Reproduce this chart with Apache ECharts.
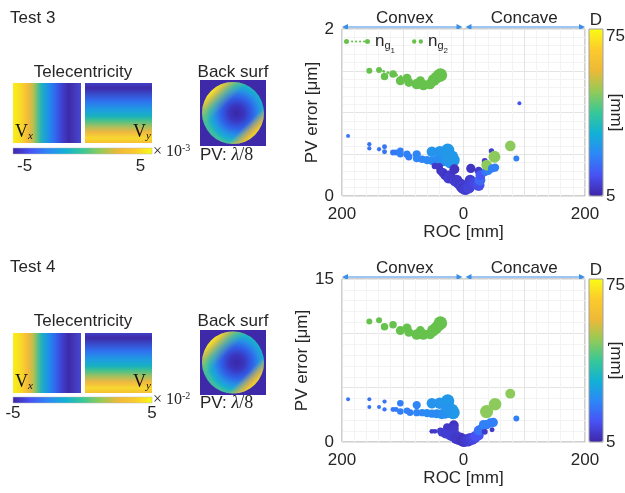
<!DOCTYPE html>
<html><head><meta charset="utf-8">
<script src="https://cdn.jsdelivr.net/npm/echarts@6/dist/echarts.min.js"></script>
<style>html,body{margin:0;padding:0;background:#fff}#c{width:625px;height:493px}</style>
</head><body><div id="c"></div>
<script>
// ---------------- DATA ----------------
// colored points: [ROC (mm, convex negative), PV error (um), D (mm), weight]
const test3Colored = [
  [-190,0.72,20,1.2],[-155,0.62,20,1.3],[-155,0.57,20,1.3],[-139,0.56,20,1.3],[-130,0.59,20,1.5],[-130,0.53,20,1.5],
  [-116,0.52,21,1.8],[-111,0.52,21,1.8],[-104,0.54,22,2],[-104,0.50,22,2],[-93,0.50,22,2.2],[-90,0.47,22,2.2],
  [-77,0.50,23,2.5],[-77,0.45,23,2.3],[-68,0.44,23,2.3],[-60,0.43,24,2.5],[-52,0.53,26,3.2],[-52,0.42,24,2.5],
  [-44,0.43,24,2.8],[-39,0.53,26,3.5],[-36,0.41,25,3],[-30,0.42,25,3],[-26,0.55,27,4],[-27,0.45,26,3.5],
  [-22,0.40,26,3.5],[-19,0.47,27,3.8],[-17,0.43,27,4],[-25,0.45,27,3.5],
  [-47,0.36,9,2],[-40,0.35,9,2.3],[-38,0.30,8,2.5],[-34,0.28,9,2.8],[-30,0.25,9,3],[-27,0.24,8,3],[-22,0.25,9,3],
  [-25,0.21,10,3],[-19,0.21,9,3.2],[-15,0.32,8,3],[-14,0.18,10,3.3],[-11,0.19,9,3.3],[-8,0.15,10,3.3],[-5,0.14,9,3.5],
  [-3,0.11,10,3.5],[0,0.09,9,3.5],[3,0.08,10,3.5],[6,0.10,10,3.5],[9,0.10,11,3.5],[11,0.19,10,3.3],[12,0.33,8,2.8],
  [15,0.15,11,3.5],[20,0.15,12,3.5],[25,0.13,13,3.5],[25,0.30,9,2.5],[27,0.19,18,3.3],[28,0.25,15,3],
  [35,0.42,9,1.8],[36,0.29,20,2.5],[41,0.30,22,2.5],[38,0.37,50,3.2],[46,0.54,10,1.6],[47,0.33,22,2.5],
  [52,0.34,22,2.5],[51,0.47,50,3.6],[77,0.60,50,3.2],[87,0.45,22,1.8],[92,1.11,14,1.2]
];
// n_g points: [ROC, PV, weight]
const test3Ng1 = [[-139,1.51,2],[-116,1.46,2.5],[-93,1.41,3]];
const test3Ng2 = [[-155,1.50,2],[-130,1.43,2.5],[-104,1.38,3],[-90,1.36,3],[-77,1.34,3.5],[-71,1.38,3],
  [-66,1.33,3.5],[-55,1.34,3.5],[-49,1.39,4],[-44,1.42,4],[-41,1.44,4],[-38,1.45,4.5]];

const test4Colored = [
  [-190,3.93,20,1.2],[-155,3.93,20,1.2],[-155,3.23,20,1.2],[-139,3.23,20,1.2],[-130,3.72,20,1.3],[-130,3.0,20,1.3],
  [-116,3.0,21,1.5],[-111,3.0,21,1.5],[-104,3.57,22,2],[-104,2.8,22,2],[-93,2.87,22,2],[-88,2.7,22,2],
  [-77,3.4,23,2.5],[-77,2.7,23,2.2],[-68,2.7,23,2.2],[-60,2.65,24,2.5],[-52,3.57,26,3.2],[-52,2.6,24,2.5],
  [-44,2.6,24,2.8],[-39,3.57,26,3.5],[-36,2.55,25,3],[-30,2.6,25,3],[-26,3.78,27,4],[-24,3.0,26,3.5],
  [-22,2.75,26,3.5],[-19,2.95,27,3.8],[-17,2.7,27,4],[-27,3.0,26,3.5],
  [-52,0.98,9,1.5],[-47,0.98,9,1.5],[-38,1.03,9,2],[-27,1.34,9,2.5],[-22,1.1,9,3],[-16,1.55,8,3],[-16,1.2,9,3],
  [-36,0.89,10,2.5],[-30,0.75,10,2.8],[-22,0.6,10,3],[-18,0.5,10,3],[-12,0.6,10,3],[-12,0.35,9,3.5],[-8,0.25,9,3.5],
  [-5,0.35,9,3.5],[-2,0.15,8,3.5],[0,0.08,8,3.5],[3,0.1,9,3.5],[6,0.2,9,3.5],[8,0.12,10,3.5],[11,0.3,10,3.5],
  [14,0.25,11,3.5],[18,0.4,12,3.5],[20,0.55,14,3.2],[25,0.6,14,3],[25,1.04,18,3],[27,1.1,20,3],
  [35,0.95,9,1.8],[47,1.13,9,1.5],[33,1.6,22,2.8],[38,1.6,22,2.8],[44,1.75,22,2.8],[49,1.8,22,2.8],
  [38,2.8,50,4],[52,3.48,50,3.8],[77,4.45,50,3],[87,2.17,22,1.8]
];
const test4Ng = [[-155,11.1,2],[-139,11.2,2],[-130,10.6,2.5],[-116,10.8,2.5],[-104,10.25,3],[-93,10.5,3],[-90,10.1,3],
  [-77,9.9,3.5],[-71,10.25,3],[-66,9.9,3.5],[-55,9.95,3.5],[-50,10.25,4],[-45,10.5,4],[-41,10.75,4],[-38,10.95,4.5]];

const xTickLabels = [-200, 0, 200];
const yTickLabels3 = [0, 2];
const yTickLabels4 = [0, 15];
const dRange = [5, 78];
const dTicks = [5, 75];
const tele3Range = [-6, 6];
const tele4Range = [-5, 5];
const teleTicks = [-5, 5];
const panelTitles = ['Test 3', 'Test 4'];
const teleExponents = ['-3', '-2'];

// ---------------- STYLE ----------------
const FONT = '"Liberation Sans", Arial, sans-serif';
const SERIF = '"Liberation Serif", "Times New Roman", serif';
const TXT = '#262626';
const GREEN = '#66c24c';
const BOX = '#a0a0a0';
const PARULA = ['#3E26A8','#4852F4','#2D87F7','#12B1D6','#37C897','#92CB57','#ECB938','#FCCA2D','#F9FB14'];
const stops = (cols) => cols.map((c, i) => ({offset: i / (cols.length - 1), color: c}));
const stopsAt = (arr) => arr.map(([o, c]) => ({offset: o, color: c}));

const G = [{top: 29, h: 167}, {top: 279, h: 163}];
const GL = 342, GW = 243;
const L = [
  {title: 18, tele: 72, rect: 83, rh: 60, cb: 148, cbl: 166, exp: 152, sq: 80, sqh: 66, pv: 155, v: 132, range: tele3Range},
  {title: 267, tele: 321, rect: 333, rh: 60, cb: 397, cbl: 413, exp: 400, sq: 330, sqh: 65, pv: 403, v: 382, range: tele4Range}
];

const chart = echarts.init(document.getElementById('c'));

function xAxis(gi) {
  return {
    type: 'value', gridIndex: gi, position: 'bottom', min: -200, max: 200, interval: 100,
    name: 'ROC [mm]', nameLocation: 'middle', nameGap: gi === 0 ? 25 : 28,
    nameTextStyle: {fontFamily: FONT, fontSize: 17, color: TXT},
    axisLine: {show: false, onZero: false},
    axisTick: {show: false},
    axisLabel: {fontFamily: FONT, fontSize: 17, color: TXT, margin: 10, showMinLabel: true, showMaxLabel: true,
      formatter: v => xTickLabels.includes(v) ? String(Math.abs(v)) : ''},
    splitLine: {show: true, lineStyle: {color: '#e4e4e4'}},
    minorTick: {show: false, splitNumber: 5},
    minorSplitLine: {show: true, lineStyle: {color: '#f3f3f3'}}
  };
}
function yAxis(gi, max, interval, ticks) {
  return {
    type: 'value', gridIndex: gi, position: 'left', min: 0, max: max, interval: interval,
    name: 'PV error [μm]', nameLocation: 'middle', nameGap: 18, nameRotate: 90,
    nameTextStyle: {fontFamily: FONT, fontSize: 17, color: TXT},
    axisLine: {show: false, onZero: false},
    axisTick: {show: false},
    axisLabel: {fontFamily: FONT, fontSize: 17, color: TXT, margin: 8, showMinLabel: true, showMaxLabel: true,
      formatter: v => ticks.includes(v) ? String(v) : ''},
    splitLine: {show: true, lineStyle: {color: '#e4e4e4'}},
    minorTick: {show: false, splitNumber: 5},
    minorSplitLine: {show: true, lineStyle: {color: '#f3f3f3'}}
  };
}

const coloredSize = d => d[3] * 3.3;
const greenSize = d => d[2] * 3.0;

// ---------------- GRAPHIC ----------------
const graphic = [];
function txt(x, y, text, size, align, extra) {
  graphic.push({type: 'text', silent: true, style: Object.assign({
    x: x, y: y, text: text, font: size + 'px ' + FONT, fill: TXT, textAlign: align || 'left', textVerticalAlign: 'middle'
  }, extra || {})});
}
function arrow(x1, x2, y) {
  const col = '#3d8ee6';
  graphic.push({type: 'line', silent: true, shape: {x1: x1 + 4, y1: y, x2: x2 - 4, y2: y}, style: {stroke: col, lineWidth: 1.2}});
  graphic.push({type: 'polygon', silent: true, shape: {points: [[x1, y], [x1 + 6, y - 3], [x1 + 6, y + 3]]}, style: {fill: col}});
  graphic.push({type: 'polygon', silent: true, shape: {points: [[x2, y], [x2 - 6, y - 3], [x2 - 6, y + 3]]}, style: {fill: col}});
}

const vxStops = stopsAt([[0,'#F9F014'],[0.12,'#F8D828'],[0.22,'#F5B83A'],[0.3,'#B8C050'],[0.36,'#60C080'],[0.42,'#20B0C0'],
  [0.52,'#2090E8'],[0.62,'#3068F0'],[0.72,'#4040D0'],[0.82,'#3E2AA8'],[1,'#4848D0']]);
const vyStops = stopsAt([[0,'#4040C8'],[0.08,'#3E2AA8'],[0.3,'#3070F0'],[0.45,'#1E9EE0'],[0.55,'#18B0C0'],[0.62,'#40C090'],
  [0.72,'#A0C060'],[0.82,'#F0B840'],[0.92,'#F8D830'],[1,'#F5C030']]);

[0, 1].forEach(p => {
  const l = L[p];
  txt(10, l.title, panelTitles[p], 17);
  txt(83, l.tele, 'Telecentricity', 17, 'center');
  txt(233, l.tele, 'Back surf', 17, 'center');
  // telecentricity maps
  graphic.push({type: 'rect', silent: true, shape: {x: 13, y: l.rect, width: 68, height: l.rh},
    style: {fill: new echarts.graphic.LinearGradient(0, 0, 1, 0, vxStops)}});
  graphic.push({type: 'rect', silent: true, shape: {x: 85, y: l.rect, width: 67, height: l.rh},
    style: {fill: new echarts.graphic.LinearGradient(0, 0, 0, 1, vyStops)}});
  txt(15, l.v, '{v|V}{s|x}', 17, 'left', {rich: {
    v: {fontFamily: SERIF, fontSize: 18, fill: '#111'},
    s: {fontFamily: SERIF, fontSize: 11, fontStyle: 'italic', fill: '#111', padding: [8, 0, 0, 0]}}});
  txt(133, l.v, '{v|V}{s|y}', 17, 'left', {rich: {
    v: {fontFamily: SERIF, fontSize: 18, fill: '#111'},
    s: {fontFamily: SERIF, fontSize: 11, fontStyle: 'italic', fill: '#111', padding: [8, 0, 0, 0]}}});
  // colorbar
  graphic.push({type: 'rect', silent: true, shape: {x: 13, y: l.cb, width: 139, height: 6},
    style: {fill: new echarts.graphic.LinearGradient(0, 0, 1, 0, stops(PARULA)), stroke: '#bbb', lineWidth: 0.5}});
  teleTicks.forEach(t => {
    const x = 13 + (t - l.range[0]) / (l.range[1] - l.range[0]) * 139;
    txt(x, l.cbl, String(t), 17, 'center');
  });
  txt(153, l.exp, '{a|× 10}{b|' + teleExponents[p] + '}', 15, 'left', {rich: {
    a: {fontFamily: SERIF, fontSize: 16, fill: TXT},
    b: {fontFamily: SERIF, fontSize: 10, fill: TXT, padding: [0, 0, 8, 0]}}});
  // back surface
  const cx = 233, cy = l.sq + l.sqh / 2, r = 31;
  graphic.push({type: 'rect', silent: true, shape: {x: 200, y: l.sq, width: 66, height: l.sqh}, style: {fill: '#3E2AA8'}});
  graphic.push({type: 'circle', silent: true, shape: {cx: cx, cy: cy, r: r},
    style: {fill: new echarts.graphic.RadialGradient(0.56, 0.5, 0.5, stopsAt([[0,'#3A28A8'],[0.25,'#3A36C0'],[0.5,'#3060E8'],[0.72,'#2592E6'],[0.88,'#18B0CC'],[1,'#40BDA0']]))}});
  graphic.push({type: 'circle', silent: true, shape: {cx: cx, cy: cy, r: r},
    style: {fill: new echarts.graphic.LinearGradient(0, 0, 1, 1, stopsAt([[0,'rgba(249,235,20,1)'],[0.16,'rgba(250,220,40,1)'],[0.22,'rgba(235,190,60,0.75)'],[0.3,'rgba(150,200,90,0.35)'],[0.38,'rgba(150,200,90,0)'],[0.7,'rgba(240,190,60,0)'],[0.78,'rgba(245,180,50,0.7)'],[0.84,'rgba(248,200,40,1)'],[0.9,'rgba(120,200,110,0.7)'],[1,'rgba(60,180,180,0.6)']]))}});
  txt(200, l.pv, '{a|PV: }{l|λ}{c|/8}', 17, 'left', {rich: {
    a: {fontFamily: FONT, fontSize: 17, fill: TXT},
    l: {fontFamily: SERIF, fontSize: 18, fontStyle: 'italic', fill: TXT},
    c: {fontFamily: SERIF, fontSize: 18, fill: TXT}}});

  // right panel annotations
  const g = G[p];
  const xMid = GL + GW / 2;
  arrow(GL, xMid - 1, g.top - 2);
  arrow(xMid + 2, GL + GW, g.top - 2);
  txt(GL + GW / 4 + 2, g.top - 11, 'Convex', 17, 'center');
  txt(GL + GW * 3 / 4, g.top - 11, 'Concave', 17, 'center');
  txt(596, g.top - 9, 'D', 17, 'center');
  graphic.push({type: 'text', silent: true, x: 616, y: g.top + g.h / 2, rotation: -Math.PI / 2,
    style: {x: 0, y: 0, text: '[mm]', font: '17px ' + FONT, fill: TXT, textAlign: 'center', textVerticalAlign: 'middle'}});
  graphic.push({type: 'rect', silent: true, z: 100, shape: {x: 589, y: g.top, width: 14, height: g.h},
    style: {fill: 'none', stroke: BOX, lineWidth: 1}});
  dTicks.forEach(t => {
    const y = g.top + (dRange[1] - t) / (dRange[1] - dRange[0]) * g.h;
    txt(606, y, String(t), 17, 'left');
  });
});

const legendRich = {
  n: {fontFamily: FONT, fontSize: 17, color: TXT, lineHeight: 20, verticalAlign: 'middle'},
  g: {fontFamily: FONT, fontSize: 11, color: TXT, verticalAlign: 'bottom'},
  i: {fontFamily: FONT, fontSize: 8, color: TXT, verticalAlign: 'bottom', padding: [0, 0, -3, 0]}
};

const option = {
  animation: false,
  backgroundColor: '#fff',
  grid: G.map(g => ({left: GL, top: g.top, width: GW, height: g.h, show: true, borderColor: BOX, borderWidth: 1})),
  xAxis: [xAxis(0), xAxis(1)],
  yAxis: [yAxis(0, 2, 0.5, yTickLabels3), yAxis(1, 15, 5, yTickLabels4)],
  legend: [
    {data: [{name: 'n_g1', icon: 'path://M0,2.5a2.5,2.5 0 1,0 5,0a2.5,2.5 0 1,0 -5,0ZM7,2.5a1.1,1.1 0 1,0 2.2,0a1.1,1.1 0 1,0 -2.2,0ZM11,2.5a1.1,1.1 0 1,0 2.2,0a1.1,1.1 0 1,0 -2.2,0ZM15,2.5a1.1,1.1 0 1,0 2.2,0a1.1,1.1 0 1,0 -2.2,0ZM19,2.5a1.1,1.1 0 1,0 2.2,0a1.1,1.1 0 1,0 -2.2,0ZM21,2.5a2.5,2.5 0 1,0 5,0a2.5,2.5 0 1,0 -5,0Z'}],
     left: 344, top: 33, itemWidth: 26, itemHeight: 5, itemGap: 0, padding: 0, selectedMode: false,
     formatter: () => '{n|n}{g|g}{i|1}', textStyle: {rich: legendRich}},
    {data: [{name: 'n_g2', icon: 'path://M0,2.2a2.2,2.2 0 1,0 4.4,0a2.2,2.2 0 1,0 -4.4,0ZM6.6,2.2a2.2,2.2 0 1,0 4.4,0a2.2,2.2 0 1,0 -4.4,0Z'}],
     left: 412, top: 33, itemWidth: 11, itemHeight: 4.4, itemGap: 0, padding: 0, selectedMode: false,
     formatter: () => '{n|n}{g|g}{i|2}', textStyle: {rich: legendRich}}
  ],
  visualMap: G.map((g, i) => ({
    type: 'continuous', min: dRange[0], max: dRange[1], dimension: 2, seriesIndex: i === 0 ? 0 : 3,
    inRange: {color: PARULA}, left: 589, top: g.top, itemWidth: 14, itemHeight: g.h, padding: 0,
    calculable: false, hoverLink: false, text: null, orient: 'vertical'
  })),
  series: [
    {name: 'D3', type: 'scatter', xAxisIndex: 0, yAxisIndex: 0, data: test3Colored, symbolSize: coloredSize,
      itemStyle: {opacity: 1}},
    {name: 'n_g1', type: 'line', xAxisIndex: 0, yAxisIndex: 0, data: test3Ng1, symbol: 'circle', symbolSize: greenSize,
      showSymbol: true, color: GREEN, itemStyle: {color: GREEN, opacity: 1},
      lineStyle: {color: GREEN, width: 2.5, type: [0.5, 4], cap: 'round'}},
    {name: 'n_g2', type: 'scatter', xAxisIndex: 0, yAxisIndex: 0, data: test3Ng2, symbolSize: greenSize,
      color: GREEN, itemStyle: {color: GREEN, opacity: 1}},
    {name: 'D4', type: 'scatter', xAxisIndex: 1, yAxisIndex: 1, data: test4Colored, symbolSize: coloredSize,
      itemStyle: {opacity: 1}},
    {name: 'ng4', type: 'scatter', xAxisIndex: 1, yAxisIndex: 1, data: test4Ng, symbolSize: greenSize,
      color: GREEN, itemStyle: {color: GREEN, opacity: 1}}
  ],
  graphic: graphic
};
chart.setOption(option);
</script></body></html>
